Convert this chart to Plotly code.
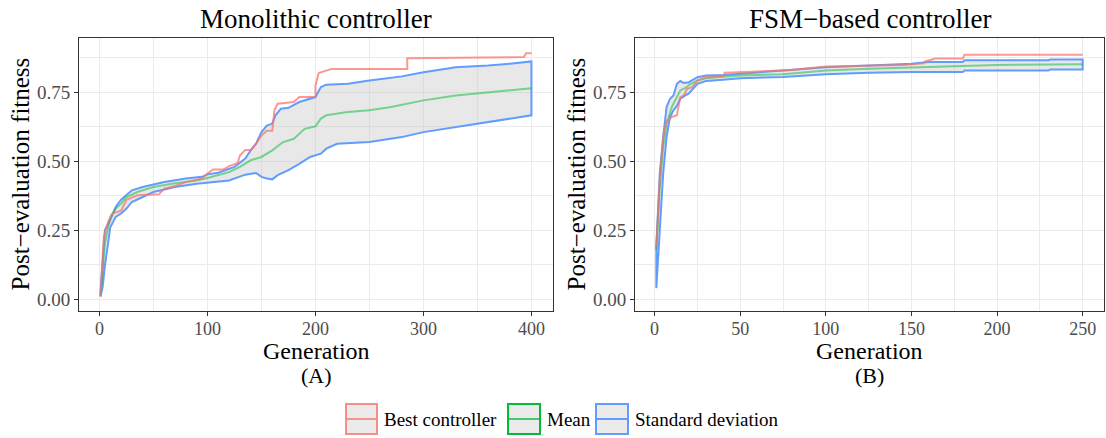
import plotly.graph_objects as go

W, H = 1106, 438

# ---------------- data ----------------
mono_best_gen = [1, 4, 8, 12, 20, 25, 35, 50, 55, 60, 70, 80, 95, 100, 105, 115, 120, 128, 130, 135, 140, 145,
                 150, 155, 160, 162, 165, 180, 185, 200, 200, 203, 210, 215, 285, 285, 393, 395, 400]
mono_best = [0.01, 0.225, 0.28, 0.31, 0.32, 0.36, 0.376, 0.38, 0.38, 0.40, 0.41, 0.424, 0.437, 0.455, 0.47, 0.47,
             0.482, 0.493, 0.52, 0.54, 0.54, 0.563, 0.593, 0.61, 0.61, 0.684, 0.708, 0.714, 0.732, 0.732, 0.774,
             0.819, 0.828, 0.834, 0.834, 0.873, 0.877, 0.891, 0.891]

mono_mean_gen = [1, 3, 5, 10, 15, 20, 25, 35, 50, 70, 90, 100, 110, 120, 130, 140, 150, 160, 170, 180, 190, 200,
                 205, 210, 230, 250, 270, 300, 330, 360, 400]
mono_mean = [0.01, 0.10, 0.20, 0.298, 0.328, 0.346, 0.37, 0.388, 0.406, 0.42, 0.43, 0.439, 0.449, 0.46, 0.479,
             0.503, 0.515, 0.539, 0.569, 0.581, 0.617, 0.626, 0.654, 0.666, 0.678, 0.684, 0.696, 0.72, 0.738,
             0.75, 0.764]

mono_upper_gen = [1, 3, 5, 10, 15, 20, 25, 30, 40, 60, 80, 95, 100, 110, 125, 135, 140, 145, 150, 155, 160, 163,
                  168, 175, 185, 195, 200, 205, 210, 230, 250, 280, 300, 330, 360, 380, 400]
mono_upper = [0.03, 0.15, 0.25, 0.286, 0.334, 0.36, 0.376, 0.394, 0.406, 0.424, 0.437, 0.443, 0.452, 0.458,
              0.479, 0.509, 0.539, 0.563, 0.605, 0.629, 0.636, 0.666, 0.69, 0.693, 0.714, 0.726, 0.732, 0.768,
              0.777, 0.78, 0.792, 0.807, 0.822, 0.84, 0.846, 0.853, 0.861]

mono_lower_gen = [1, 3, 5, 10, 15, 20, 25, 30, 40, 50, 70, 90, 100, 120, 135, 145, 150, 155, 160, 165, 175, 185,
                  195, 205, 210, 220, 250, 260, 280, 300, 330, 360, 380, 400]
mono_lower = [0.01, 0.045, 0.12, 0.26, 0.298, 0.31, 0.328, 0.352, 0.37, 0.388, 0.406, 0.418, 0.421, 0.43, 0.451,
              0.457, 0.443, 0.437, 0.434, 0.449, 0.467, 0.49, 0.515, 0.527, 0.545, 0.563, 0.569, 0.575, 0.587,
              0.605, 0.623, 0.641, 0.654, 0.666]

fsm_best_gen = [1, 3, 5, 7, 8, 10, 13, 15, 17, 19, 22, 25, 30, 40, 41, 50, 80, 100, 125, 145, 157, 158, 164,
                180, 181, 250]
fsm_best = [0.19, 0.43, 0.587, 0.647, 0.647, 0.66, 0.666, 0.732, 0.738, 0.762, 0.768, 0.792, 0.804, 0.807, 0.82,
            0.822, 0.83, 0.843, 0.845, 0.848, 0.854, 0.861, 0.872, 0.872, 0.885, 0.885]

fsm_mean_gen = [1, 3, 5, 7, 10, 13, 15, 18, 20, 25, 30, 40, 50, 75, 100, 125, 150, 180, 200, 250]
fsm_mean = [0.18, 0.40, 0.55, 0.635, 0.696, 0.732, 0.756, 0.765, 0.775, 0.792, 0.80, 0.806, 0.81, 0.815, 0.828,
            0.835, 0.84, 0.845, 0.848, 0.851]

fsm_upper_gen = [1, 3, 5, 7, 9, 11, 13, 15, 17, 20, 25, 30, 40, 50, 75, 100, 125, 150, 160, 180, 181, 230, 231, 250]
fsm_upper = [0.19, 0.455, 0.587, 0.696, 0.726, 0.738, 0.78, 0.79, 0.783, 0.786, 0.804, 0.81, 0.812, 0.816, 0.828,
             0.84, 0.846, 0.853, 0.859, 0.859, 0.865, 0.865, 0.868, 0.868]

fsm_lower_gen = [1, 3, 5, 7, 9, 11, 13, 15, 18, 20, 25, 30, 40, 50, 75, 100, 125, 150, 180, 181, 230, 231, 250]
fsm_lower = [0.04, 0.26, 0.455, 0.587, 0.66, 0.684, 0.70, 0.726, 0.738, 0.745, 0.78, 0.79, 0.795, 0.80, 0.805,
             0.815, 0.82, 0.823, 0.823, 0.828, 0.828, 0.832, 0.832]

panel_titles = ["Monolithic controller", "FSM\u2212based controller"]
panel_tags = ["(A)", "(B)"]
legend_labels = ["Best controller", "Mean", "Standard deviation"]
y_ticks = [0.0, 0.25, 0.5, 0.75]
y_ticklabels = ["0.00", "0.25", "0.50", "0.75"]
mono_xticks = [0, 100, 200, 300, 400]
fsm_xticks = [0, 50, 100, 150, 200, 250]

# ---------------- styling ----------------
FONT = "Liberation Serif"
RED = "rgba(248,118,109,0.75)"
GREEN = "rgba(0,186,56,0.5)"
BLUE = "#619CFF"
RIBBON = "rgba(190,190,190,0.35)"
GRID = "#EBEBEB"


def px_x(p):
    return p / W


def px_y(p):
    return 1 - p / H


fig = go.Figure()

panels = [
    dict(best=(mono_best_gen, mono_best), mean=(mono_mean_gen, mono_mean),
         up=(mono_upper_gen, mono_upper), lo=(mono_lower_gen, mono_lower), xa="x", ya="y"),
    dict(best=(fsm_best_gen, fsm_best), mean=(fsm_mean_gen, fsm_mean),
         up=(fsm_upper_gen, fsm_upper), lo=(fsm_lower_gen, fsm_lower), xa="x2", ya="y2"),
]

for p in panels:
    ug, uv = p["up"]
    lg, lv = p["lo"]
    poly_x = list(ug) + list(reversed(lg)) + [ug[0]]
    poly_y = list(uv) + list(reversed(lv)) + [uv[0]]
    fig.add_trace(go.Scatter(x=poly_x, y=poly_y, mode="lines", fill="toself", fillcolor=RIBBON,
                             line=dict(color=BLUE, width=2), xaxis=p["xa"], yaxis=p["ya"],
                             showlegend=False, hoverinfo="skip"))
    fig.add_trace(go.Scatter(x=p["mean"][0], y=p["mean"][1], mode="lines", line=dict(color=GREEN, width=2),
                             xaxis=p["xa"], yaxis=p["ya"], showlegend=False))
    fig.add_trace(go.Scatter(x=p["best"][0], y=p["best"][1], mode="lines", line=dict(color=RED, width=2),
                             xaxis=p["xa"], yaxis=p["ya"], showlegend=False))

# panel geometry (pixels)
left_dom = (79, 553)
right_dom = (635, 1104)
top_px, bot_px = 38, 311

axis_common = dict(showline=True, linecolor="#333333", linewidth=1, mirror=True,
                   ticks="outside", ticklen=4, tickcolor="#333333", tickwidth=1,
                   showgrid=True, gridcolor=GRID, gridwidth=1.3, zeroline=False,
                   automargin=False)
tick_font = dict(family=FONT, size=19, color="#4D4D4D")
xtick_font = dict(family=FONT, size=18, color="#4D4D4D")

fig.update_layout(
    width=W, height=H, margin=dict(l=0, r=0, t=0, b=0),
    paper_bgcolor="white", plot_bgcolor="white", showlegend=False,
    xaxis=dict(domain=[px_x(left_dom[0]), px_x(left_dom[1])], range=[-18.95, 419.95],
               tickvals=mono_xticks, anchor="y", ticklabelstandoff=-3, tickfont=xtick_font,
               minor=dict(showgrid=True, gridcolor=GRID, gridwidth=0.6, tickvals=[50, 150, 250, 350], ticks=""),
               **axis_common),
    yaxis=dict(domain=[px_y(bot_px), px_y(top_px)], range=[-0.043, 0.946], tickvals=y_ticks,
               ticktext=y_ticklabels, anchor="x", tickfont=tick_font,
               minor=dict(showgrid=True, gridcolor=GRID, gridwidth=0.6, tickvals=[0.125, 0.375, 0.625, 0.875], ticks=""),
               **axis_common),
    xaxis2=dict(domain=[px_x(right_dom[0]), px_x(right_dom[1])], range=[-11.45, 262.45],
                tickvals=fsm_xticks, anchor="y2", ticklabelstandoff=-3, tickfont=xtick_font,
                minor=dict(showgrid=True, gridcolor=GRID, gridwidth=0.6, tickvals=[25, 75, 125, 175, 225], ticks=""),
                **axis_common),
    yaxis2=dict(domain=[px_y(bot_px), px_y(top_px)], range=[-0.043, 0.946], tickvals=y_ticks,
                ticktext=y_ticklabels, anchor="x2", tickfont=tick_font,
                minor=dict(showgrid=True, gridcolor=GRID, gridwidth=0.6, tickvals=[0.125, 0.375, 0.625, 0.875], ticks=""),
                **axis_common),
)

annots = []
for i, dom in enumerate([left_dom, right_dom]):
    cx = (dom[0] + dom[1]) / 2
    annots.append(dict(text=panel_titles[i], x=px_x(cx), y=px_y(19), xref="paper", yref="paper",
                       showarrow=False, xanchor="center", yanchor="middle",
                       font=dict(family=FONT, size=27, color="black")))
    annots.append(dict(text="Generation", x=px_x(cx), y=px_y(351), xref="paper", yref="paper",
                       showarrow=False, xanchor="center", yanchor="middle",
                       font=dict(family=FONT, size=24, color="black")))
    annots.append(dict(text=panel_tags[i], x=px_x(cx), y=px_y(375), xref="paper", yref="paper",
                       showarrow=False, xanchor="center", yanchor="middle",
                       font=dict(family=FONT, size=22, color="black")))
    annots.append(dict(text="Post\u2212evaluation fitness", x=px_x(dom[0] - 59), y=px_y((top_px + bot_px) / 2),
                       xref="paper", yref="paper", showarrow=False, textangle=-90,
                       xanchor="center", yanchor="middle",
                       font=dict(family=FONT, size=25, color="black")))

# manual legend
shapes = []
leg_boxes = [(346, 377), (508, 540), (596, 628)]
leg_text_x = [382, 545, 633]
leg_cols = ["rgba(248,118,109,0.8)", "#00BA38", BLUE]
leg_line = [RED, "rgba(0,186,56,0.7)", BLUE]
by0, by1 = 404, 434
for (x0, x1), tx, c, lc, lab in zip(leg_boxes, leg_text_x, leg_cols, leg_line, legend_labels):
    shapes.append(dict(type="rect", xref="paper", yref="paper", x0=px_x(x0), x1=px_x(x1),
                       y0=px_y(by1), y1=px_y(by0), fillcolor="#EBEBEB", line=dict(color=c, width=2)))
    shapes.append(dict(type="line", xref="paper", yref="paper", x0=px_x(x0 + 1), x1=px_x(x1 - 1),
                       y0=px_y((by0 + by1) / 2), y1=px_y((by0 + by1) / 2), line=dict(color=lc, width=2)))
    annots.append(dict(text=lab, x=px_x(tx), y=px_y((by0 + by1) / 2), xref="paper", yref="paper",
                       showarrow=False, xanchor="left", yanchor="middle",
                       font=dict(family=FONT, size=19, color="black")))

fig.update_layout(annotations=annots, shapes=shapes)
fig.write_html("out.html", config={"displayModeBar": False},
               post_script="document.body.style.margin='0px';document.body.style.overflow='hidden';")
